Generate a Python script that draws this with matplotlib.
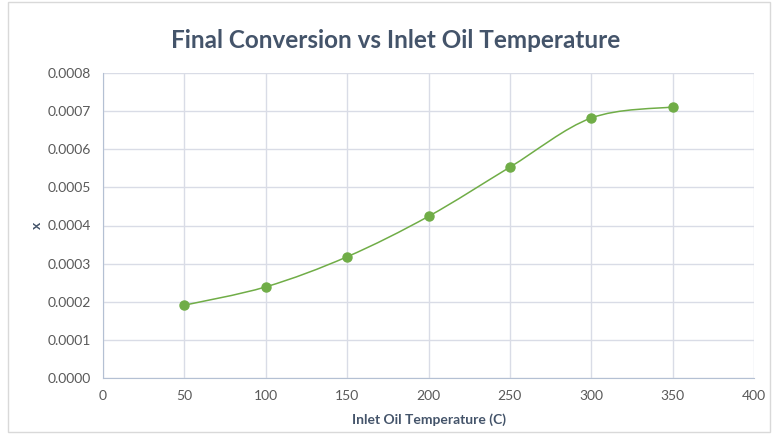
import matplotlib.pyplot as plt
from matplotlib.path import Path
from matplotlib.patches import PathPatch, Rectangle

plt.rcParams['font.family'] = ['Lato', 'DejaVu Sans']

temperature = [50, 100, 150, 200, 250, 300, 350]
conversion = [0.000191, 0.000239, 0.000318, 0.000424, 0.000553, 0.000682, 0.000711]

x_ticks = [0, 50, 100, 150, 200, 250, 300, 350, 400]
y_ticks = [0.0000, 0.0001, 0.0002, 0.0003, 0.0004, 0.0005, 0.0006, 0.0007, 0.0008]

green = '#70AD47'
grid_col = '#D9DCE6'
text_col = '#595959'
title_col = '#44546A'


# Excel-like smoothed line: cubic bezier through the points (Catmull-Rom)
def smoothPath(xs, ys):
    n = len(xs)
    verts = [(xs[0], ys[0])]
    codes = [Path.MOVETO]
    for i in range(n - 1):
        x0, y0 = (xs[i - 1], ys[i - 1]) if i > 0 else (xs[i], ys[i])
        x3, y3 = (xs[i + 2], ys[i + 2]) if i + 2 < n else (xs[i + 1], ys[i + 1])
        c1 = (xs[i] + (xs[i + 1] - x0) / 6, ys[i] + (ys[i + 1] - y0) / 6)
        c2 = (xs[i + 1] - (x3 - xs[i]) / 6, ys[i + 1] - (y3 - ys[i]) / 6)
        verts += [c1, c2, (xs[i + 1], ys[i + 1])]
        codes += [Path.CURVE4] * 3
    return Path(verts, codes)


fig = plt.figure(figsize=(7.72, 4.38), dpi=100)
fig.patches.append(Rectangle((8 / 772, 6 / 438), 762 / 772, 430 / 438, transform=fig.transFigure,
                             fill=False, edgecolor='#D9D9D9', linewidth=1))
ax = fig.add_axes([103 / 772, 60 / 438, 651 / 772, 305 / 438])

ax.add_patch(PathPatch(smoothPath(temperature, conversion), facecolor='none', edgecolor=green, linewidth=1.1, zorder=3))
ax.plot(temperature, conversion, 'o', color=green, markersize=6.5, zorder=4)

ax.set_xlim(0, 400)
ax.set_ylim(0, 0.0008)
ax.set_xticks(x_ticks)
ax.set_yticks(y_ticks)
ax.set_yticklabels([f"{v:.4f}" for v in y_ticks])
ax.grid(True, color=grid_col, linewidth=1)
ax.set_axisbelow(True)
ax.tick_params(length=0, labelsize=10, colors=text_col, pad=9)
for side in ['top', 'right']:
    ax.spines[side].set_visible(False)
for side in ['left', 'bottom']:
    ax.spines[side].set_color('#B4C0D3')

ax.set_xlabel('Inlet Oil Temperature (C)', fontsize=10, fontweight='bold', color=title_col, labelpad=8)
ax.set_ylabel('x', fontsize=10, fontweight='bold', color=title_col, labelpad=3, rotation=90)
fig.text(396 / 772, 1 - 40 / 438, 'Final Conversion vs Inlet Oil Temperature', ha='center', va='center',
         fontsize=17.5, fontweight='bold', color=title_col)

fig.savefig('out.png', dpi=100)
